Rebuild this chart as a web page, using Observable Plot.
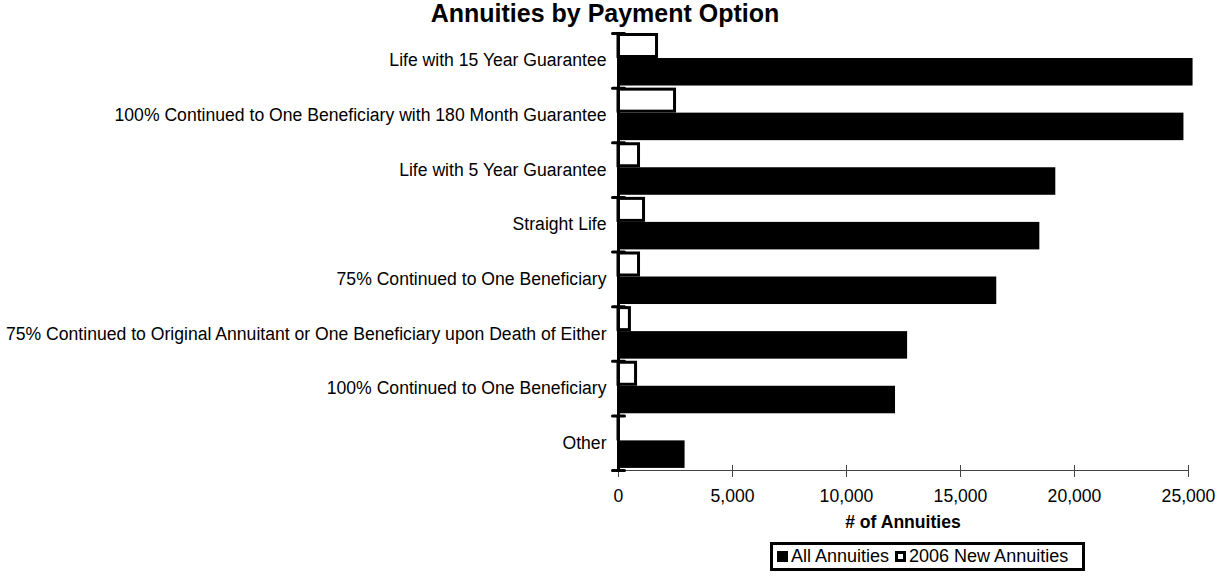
<!DOCTYPE html>
<html>
<head>
<meta charset="utf-8">
<script src="https://cdn.jsdelivr.net/npm/d3@7"></script>
<script src="https://cdn.jsdelivr.net/npm/@observablehq/plot@0.6"></script>
<style>
  body { margin: 0; background: #fff; }
  #wrap { position: relative; width: 1219px; height: 579px; font-family: "Liberation Sans", Arial, Helvetica, sans-serif; color: #000; overflow: hidden; }
  #title { position: absolute; top: -1px; left: 0; width: 1210px; text-align: center; font-weight: bold; font-size: 25px; }
  #chart { position: absolute; left: 0; top: 0; }
  #xlabel { position: absolute; left: 618px; width: 570px; top: 512px; text-align: center; font-weight: bold; font-size: 17.6px; }
  #legend { position: absolute; left: 770px; top: 542px; width: 305px; height: 23px; padding: 0 0 0 4px; border: 3px solid #000; display: flex; align-items: center; font-size: 18px; white-space: nowrap; background: #fff; }
  .sw { display: inline-block; width: 11px; height: 11px; box-sizing: border-box; margin-right: 3px; }
  .sw.all { background: #000; }
  .sw.new { background: #fff; border: 3px solid #000; margin-left: 6px; }
</style>
</head>
<body>
<div id="wrap">
  <div id="chart"></div>
  <div id="title"></div>
  <div id="xlabel"></div>
  <div id="legend"></div>
</div>
<script>
// ---- Data ----
const titleText = "Annuities by Payment Option";
const xAxisLabel = "# of Annuities";
const seriesNames = ["All Annuities", "2006 New Annuities"];
const categories = [
  "Life with 15 Year Guarantee",
  "100% Continued to One Beneficiary with 180 Month Guarantee",
  "Life with 5 Year Guarantee",
  "Straight Life",
  "75% Continued to One Beneficiary",
  "75% Continued to Original Annuitant or One Beneficiary upon Death of Either",
  "100% Continued to One Beneficiary",
  "Other"
];
const allAnnuities = [25200, 24800, 19180, 18480, 16590, 12680, 12150, 2920];
const newAnnuities = [1690, 2480, 900, 1120, 900, 500, 770, 20];
const xTicks = [0, 5000, 10000, 15000, 20000, 25000];

// ---- Build ----
const rows = categories.map((c, i) => ({cat: c, i, all: allAnnuities[i], nw: newAnnuities[i]}));
const band = 54.6;
const whiteTop = 1.5 / band, whiteBottom = 23.5 / band;
const blackTop = 25 / band, blackBottom = 52.5 / band;
const font = '"Liberation Sans", Arial, Helvetica, sans-serif';

const chart = Plot.plot({
  width: 1219,
  height: 579,
  marginLeft: 618,
  marginRight: 31,
  marginTop: 33,
  marginBottom: 109,
  style: {fontFamily: font, fontSize: "17.6px", color: "#000", background: "transparent", overflow: "visible"},
  x: {domain: [0, 25000], label: null},
  y: {domain: [0, categories.length], reverse: true, label: null},
  marks: [
    Plot.rect(rows, {x1: 0, x2: "all", y1: d => d.i + blackTop, y2: d => d.i + blackBottom, fill: "#000"}),
    Plot.rect(rows, {x1: 0, x2: "nw", y1: d => d.i + whiteTop, y2: d => d.i + whiteBottom, fill: "#fff", stroke: "#000", strokeWidth: 3}),
    Plot.ruleY([categories.length], {stroke: "#444", strokeWidth: 1.2}),
    Plot.axisX({ticks: xTicks, tickSize: 7, tickPadding: 12, tickFormat: d3.format(","), stroke: "#444", label: null}),
    Plot.axisX({ticks: xTicks, tickSize: 5, dy: -5, tickFormat: () => "", stroke: "#444", label: null}),
    Plot.ruleX([0], {stroke: "#000", strokeWidth: 3}),
    Plot.axisY({ticks: d3.range(categories.length + 1), tickSize: 12, dx: 6.5, tickFormat: () => "", strokeWidth: 3, strokeLinecap: "round", stroke: "#000", label: null}),
    Plot.axisY({ticks: categories.map((_, i) => i + 0.5), tickFormat: d => categories[Math.floor(d)], tickSize: 0, tickPadding: 12, label: null})
  ]
});
document.getElementById("chart").appendChild(chart);
document.getElementById("title").textContent = titleText;
document.getElementById("xlabel").textContent = xAxisLabel;
const lg = document.getElementById("legend");
lg.innerHTML = `<span class="sw all"></span><span>${seriesNames[0]}</span><span class="sw new"></span><span>${seriesNames[1]}</span>`;
</script>
</body>
</html>
